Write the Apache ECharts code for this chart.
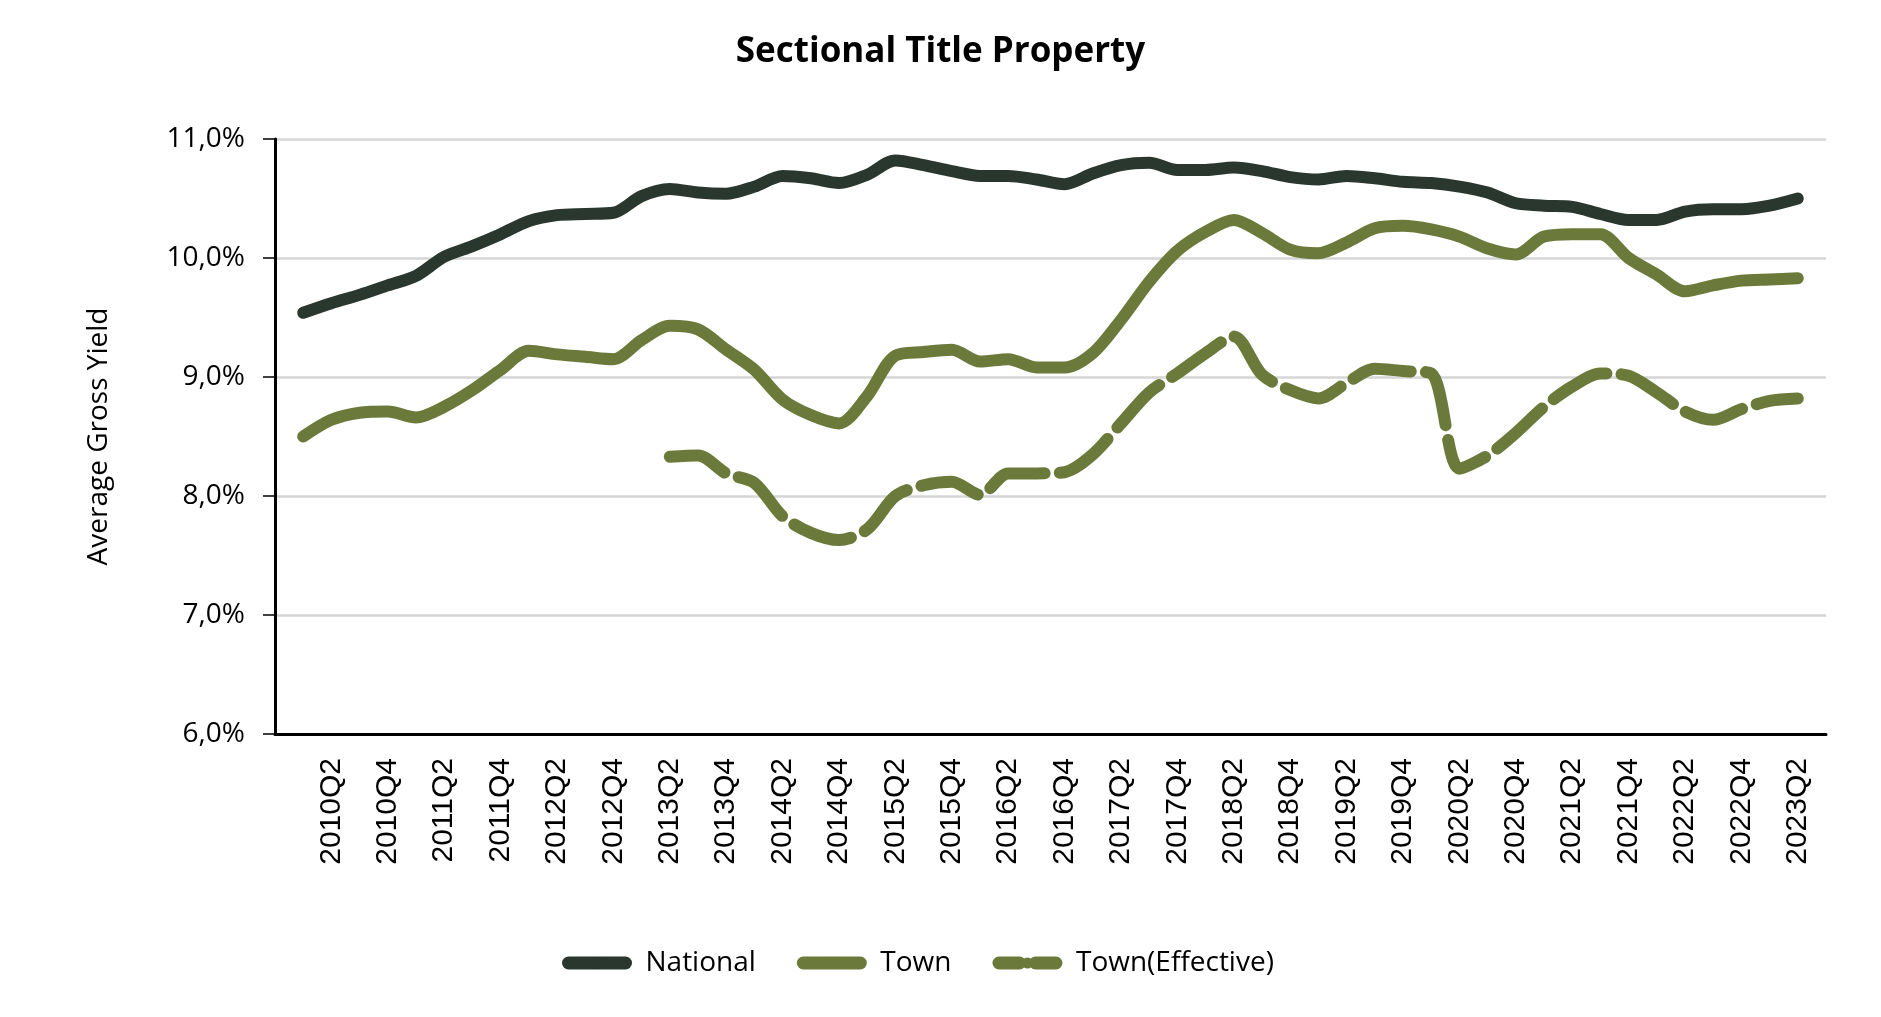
<!DOCTYPE html>
<html>
<head>
<meta charset="utf-8">
<script src="https://cdn.jsdelivr.net/npm/echarts@6/dist/echarts.min.js"></script>
<style>
html,body{margin:0;padding:0;background:#fff;}
#chart{width:1881px;height:1017px;}
</style>
</head>
<body>
<div id="chart"></div>
<script>
// Quarters 2010Q1 .. 2023Q2
const quarters = ["2010Q1","2010Q2","2010Q3","2010Q4","2011Q1","2011Q2","2011Q3","2011Q4",
"2012Q1","2012Q2","2012Q3","2012Q4","2013Q1","2013Q2","2013Q3","2013Q4",
"2014Q1","2014Q2","2014Q3","2014Q4","2015Q1","2015Q2","2015Q3","2015Q4",
"2016Q1","2016Q2","2016Q3","2016Q4","2017Q1","2017Q2","2017Q3","2017Q4",
"2018Q1","2018Q2","2018Q3","2018Q4","2019Q1","2019Q2","2019Q3","2019Q4",
"2020Q1","2020Q2","2020Q3","2020Q4","2021Q1","2021Q2","2021Q3","2021Q4",
"2022Q1","2022Q2","2022Q3","2022Q4","2023Q1","2023Q2"];

const national = [9.54,9.62,9.69,9.77,9.85,10.01,10.10,10.20,10.31,10.36,10.37,10.38,10.52,10.58,10.55,10.54,
10.60,10.69,10.67,10.63,10.70,10.82,10.78,10.73,10.69,10.69,10.66,10.62,10.71,10.78,10.80,10.74,
10.74,10.76,10.73,10.68,10.66,10.69,10.67,10.64,10.63,10.60,10.55,10.46,10.44,10.43,10.37,10.32,
10.32,10.39,10.41,10.41,10.44,10.50];

const town = [8.50,8.64,8.70,8.71,8.66,8.75,8.89,9.06,9.22,9.19,9.17,9.15,9.31,9.43,9.40,9.23,
9.06,8.81,8.68,8.61,8.84,9.18,9.21,9.23,9.13,9.15,9.08,9.08,9.20,9.48,9.80,10.06,
10.22,10.32,10.21,10.07,10.04,10.13,10.25,10.27,10.24,10.18,10.08,10.03,10.18,10.20,10.20,10.00,
9.86,9.72,9.77,9.81,9.82,9.83];

const townEffective = [null,null,null,null,null,null,null,null,null,null,null,null,null,8.33,8.34,8.19,
8.11,7.83,7.69,7.63,7.72,8.00,8.09,8.12,8.01,8.19,8.19,8.20,8.35,8.61,8.87,9.03,
9.20,9.34,9.02,8.89,8.82,8.95,9.07,9.05,9.03,8.23,8.34,8.53,8.75,8.92,9.03,9.01,
8.87,8.71,8.64,8.73,8.80,8.82];

const yTicks = [6,7,8,9,10,11];
const seriesNames = ["National","Town","Town(Effective)"];

// position on the x value axis: one slot before the first quarter and one after the last
const toPairs = arr => arr.map((v, i) => [i + 1, v]);

const C_NAT = '#29372f';
const C_TOWN = '#6b7a3a';
const FONT = '"Open Sans", sans-serif';

const chart = echarts.init(document.getElementById('chart'), null, {renderer:'canvas'});
chart.setOption({
  backgroundColor: '#ffffff',
  animation: false,
  title: {
    text: 'Sectional Title Property',
    left: 'center',
    top: 30,
    textStyle: {fontFamily: FONT, fontWeight: 700, fontSize: 35, color: '#000'}
  },
  legend: {
    left: 557,
    top: 944,
    itemWidth: 57,
    itemHeight: 14,
    itemGap: 41,
    lineStyle: {width: 13, cap: 'round'},
    textStyle: {fontFamily: FONT, fontSize: 28, color: '#000', padding: [0,0,0,15]},
    data: [
      {name: seriesNames[0]},
      {name: seriesNames[1]},
      {name: seriesNames[2], lineStyle: {width: 13, cap: 'round', type: [20.5, 16]}}
    ]
  },
  grid: {left: 275, right: 55, top: 139, bottom: 283, containLabel: false},
  xAxis: {
    type: 'value',
    min: 0,
    max: quarters.length + 1,
    interval: 2,
    splitLine: {show: false},
    axisTick: {show: false},
    axisLine: {show: true, onZero: false, lineStyle: {color: '#000', width: 3}},
    axisLabel: {
      rotate: 90,
      margin: 24,
      fontFamily: '"Liberation Sans", Arial, sans-serif',
      fontSize: 30,
      color: '#000',
      showMinLabel: false,
      showMaxLabel: false,
      formatter: v => quarters[v - 1] || ''
    }
  },
  yAxis: {
    type: 'value',
    min: yTicks[0],
    max: yTicks[yTicks.length - 1],
    interval: 1,
    name: 'Average Gross Yield',
    nameLocation: 'middle',
    nameGap: 162,
    nameTextStyle: {fontFamily: FONT, fontSize: 28, color: '#000'},
    axisLine: {show: true, lineStyle: {color: '#000', width: 3}},
    axisTick: {show: true, length: 12, lineStyle: {color: '#000', width: 1.5}},
    axisLabel: {
      margin: 30,
      fontFamily: FONT,
      fontSize: 28,
      color: '#000',
      formatter: v => v.toFixed(1).replace('.', ',') + '%'
    },
    splitLine: {show: true, lineStyle: {color: '#d6d6d6', width: 2.5}}
  },
  series: [
    {
      name: seriesNames[0], type: 'line', data: toPairs(national),
      smooth: 0.3, symbol: 'none', z: 3,
      lineStyle: {color: C_NAT, width: 12, cap: 'round', join: 'round'},
      itemStyle: {color: C_NAT}
    },
    {
      name: seriesNames[1], type: 'line', data: toPairs(town),
      smooth: 0.3, symbol: 'none', z: 2,
      lineStyle: {color: C_TOWN, width: 12, cap: 'round', join: 'round'},
      itemStyle: {color: C_TOWN}
    },
    {
      name: seriesNames[2], type: 'line', data: toPairs(townEffective),
      smooth: 0.3, symbol: 'none', z: 2, connectNulls: false,
      lineStyle: {color: C_TOWN, width: 12, cap: 'round', join: 'round', type: [60, 15]},
      itemStyle: {color: C_TOWN}
    }
  ]
});
</script>
</body>
</html>
